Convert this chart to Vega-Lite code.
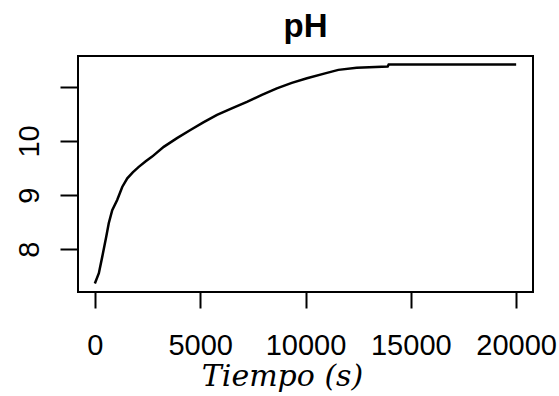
{
  "$schema": "https://vega.github.io/schema/vega-lite/v6.json",
  "width": 455,
  "height": 236,
  "autosize": "none",
  "padding": {"left": 78, "top": 56, "right": 26, "bottom": 104},
  "background": "white",
  "title": {
    "text": "pH",
    "font": "Liberation Sans",
    "fontSize": 33,
    "fontWeight": "bold",
    "color": "black",
    "anchor": "middle",
    "offset": 12
  },
  "config": {
    "view": {"stroke": "black", "strokeWidth": 2}
  },
  "data": {
    "values": [
      {"t": 0, "pH": 7.37},
      {"t": 190, "pH": 7.56},
      {"t": 350, "pH": 7.86},
      {"t": 540, "pH": 8.23},
      {"t": 660, "pH": 8.48},
      {"t": 825, "pH": 8.72},
      {"t": 1060, "pH": 8.91},
      {"t": 1300, "pH": 9.15},
      {"t": 1540, "pH": 9.31},
      {"t": 1800, "pH": 9.42},
      {"t": 2085, "pH": 9.52},
      {"t": 2400, "pH": 9.62},
      {"t": 2720, "pH": 9.71},
      {"t": 3270, "pH": 9.89},
      {"t": 3900, "pH": 10.05},
      {"t": 4535, "pH": 10.2},
      {"t": 5150, "pH": 10.34},
      {"t": 5800, "pH": 10.48},
      {"t": 6500, "pH": 10.6},
      {"t": 7220, "pH": 10.72},
      {"t": 7930, "pH": 10.85},
      {"t": 8640, "pH": 10.97},
      {"t": 9350, "pH": 11.07},
      {"t": 10070, "pH": 11.155},
      {"t": 10930, "pH": 11.245},
      {"t": 11560, "pH": 11.31},
      {"t": 12430, "pH": 11.35},
      {"t": 13900, "pH": 11.37},
      {"t": 13950, "pH": 11.41},
      {"t": 20000, "pH": 11.41}
    ]
  },
  "mark": {"type": "line", "color": "black", "strokeWidth": 2.5, "clip": true},
  "encoding": {
    "x": {
      "field": "t",
      "type": "quantitative",
      "scale": {"domain": [-800, 20800], "nice": false, "zero": false},
      "axis": {
        "values": [0, 5000, 10000, 15000, 20000],
        "format": "d",
        "grid": false,
        "domain": false,
        "tickColor": "black",
        "tickWidth": 2,
        "tickSize": 16,
        "labelFont": "Liberation Sans",
        "labelFontSize": 29,
        "labelColor": "black",
        "labelPadding": 23,
        "labelFlush": false,
        "labelOverlap": false,
        "title": "Tiempo (s)",
        "titleFont": "DejaVu Serif",
        "titleFontStyle": "italic",
        "titleFontWeight": "normal",
        "titleFontSize": 30,
        "titleColor": "black",
        "titleAlign": "center",
        "titleBaseline": "alphabetic",
        "titleX": 204,
        "titleY": 93
      }
    },
    "y": {
      "field": "pH",
      "type": "quantitative",
      "scale": {"domain": [7.212, 11.566], "nice": false, "zero": false},
      "axis": {
        "values": [8, 9, 10, 11],
        "labelExpr": "datum.value == 11 ? '' : datum.label",
        "grid": false,
        "domain": false,
        "tickColor": "black",
        "tickWidth": 2,
        "tickSize": 18,
        "labelFont": "Liberation Sans",
        "labelFontSize": 29,
        "labelColor": "black",
        "labelAngle": -90,
        "labelAlign": "center",
        "labelBaseline": "alphabetic",
        "labelPadding": 22,
        "labelFlush": false,
        "labelOverlap": false,
        "title": null
      }
    }
  }
}
